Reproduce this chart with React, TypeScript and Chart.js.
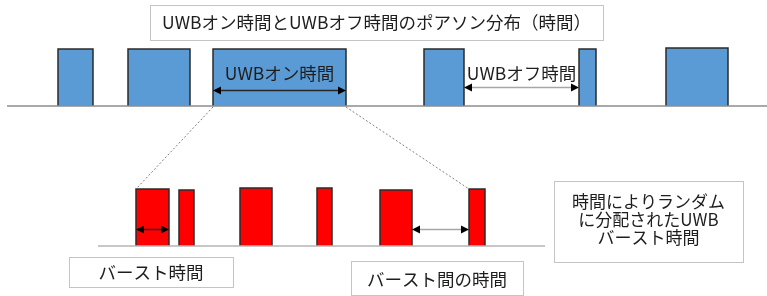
import React, { useEffect, useRef } from "react";
import { Chart, registerables } from "chart.js";

Chart.register(...registerables);

// ---- texts ----
const TITLE = "UWBオン時間とUWBオフ時間のポアソン分布（時間）";
const ON_LABEL = "UWBオン時間";
const OFF_LABEL = "UWBオフ時間";
const BURST_LABEL = "バースト時間";
const GAP_LABEL = "バースト間の時間";
const NOTE_LINES = ["時間によりランダム", "に分配されたUWB", "バースト時間"];

// ---- top timeline: UWB on periods (time units) ----
const onStarts = [58, 128, 213, 424, 579, 666];
const onEnds = [93, 190, 346, 464, 596, 728];
const onHeights = [57, 57, 57, 57, 57, 58];
const TOP_LEVEL = 190;
const TOP_AXIS = [7, 767];

// ---- bottom timeline: bursts inside the highlighted on period ----
const burstStarts = [136, 179, 240, 317, 380, 469];
const burstEnds = [169, 194, 272, 332, 412, 485];
const burstHeights = [57, 56, 58, 58, 56, 57];
const BOTTOM_LEVEL = 50;
const BOTTOM_AXIS = [98, 545];

const FONT = '"Noto Sans CJK JP", "Noto Sans", sans-serif';

function rect(s: number, e: number, base: number, h: number) {
  return [
    { x: s, y: base },
    { x: s, y: base + h },
    { x: e, y: base + h },
    { x: e, y: base },
  ];
}

const overlay = {
  id: "overlay",
  afterDatasetsDraw(chart: any) {
    const { ctx } = chart;
    const xs = chart.scales.x;
    const ys = chart.scales.y;
    const px = (v: number) => xs.getPixelForValue(v);
    const py = (v: number) => ys.getPixelForValue(v);

    const box = (x0: number, x1: number, y0: number, y1: number) => {
      ctx.save();
      ctx.strokeStyle = "#c4c4c4";
      ctx.lineWidth = 1;
      ctx.fillStyle = "#ffffff";
      const X = Math.round(px(x0)) + 0.5;
      const Y = Math.round(py(y0)) + 0.5;
      const W = Math.round(px(x1) - px(x0));
      const H = Math.round(py(y1) - py(y0));
      ctx.fillRect(X, Y, W, H);
      ctx.strokeRect(X, Y, W, H);
      ctx.restore();
    };
    const text = (t: string, cx: number, cy: number, size: number) => {
      ctx.save();
      ctx.font = `${size}px ${FONT}`;
      ctx.fillStyle = "#1e1e1e";
      ctx.textAlign = "center";
      ctx.textBaseline = "middle";
      ctx.fillText(t, px(cx), py(cy));
      ctx.restore();
    };
    const arrow = (x0: number, x1: number, yv: number, lineColor: string) => {
      const a = px(x0);
      const b = px(x1);
      const y = Math.round(py(yv)) + 0.5;
      const L = 8;
      const hh = 4;
      ctx.save();
      ctx.strokeStyle = lineColor;
      ctx.lineWidth = 1.5;
      ctx.beginPath();
      ctx.moveTo(a + L - 1, y);
      ctx.lineTo(b - L + 1, y);
      ctx.stroke();
      ctx.fillStyle = "#000000";
      ctx.beginPath();
      ctx.moveTo(a, y);
      ctx.lineTo(a + L, y - hh);
      ctx.lineTo(a + L, y + hh);
      ctx.closePath();
      ctx.fill();
      ctx.beginPath();
      ctx.moveTo(b, y);
      ctx.lineTo(b - L, y - hh);
      ctx.lineTo(b - L, y + hh);
      ctx.closePath();
      ctx.fill();
      ctx.restore();
    };

    // arrows
    arrow(onStarts[2], onEnds[2], 206, "#262626");
    arrow(onEnds[3], onStarts[4], 209, "#a6a6a6");
    arrow(burstStarts[0], burstEnds[0], 67, "#262626");
    arrow(burstEnds[4], burstStarts[5], 67, "#a6a6a6");

    // labels on the top timeline
    text(ON_LABEL, (onStarts[2] + onEnds[2]) / 2, 223, 17.5);
    text(OFF_LABEL, (onEnds[3] + onStarts[4]) / 2, 223, 17.5);

    // title box
    box(150, 603, 291, 256);
    text(TITLE, 376.5, 273.5, 17.5);

    // bottom boxes
    box(69, 233, 39, 9);
    text(BURST_LABEL, 151, 24, 17.5);
    box(351, 523, 35, 1);
    text(GAP_LABEL, 437, 17, 17.5);
    box(554, 743, 115, 34);
    NOTE_LINES.forEach((l, i) => text(l, 648.5, 94 - i * 18, 17));
  },
};

export default function App() {
  const ref = useRef<HTMLCanvasElement | null>(null);

  useEffect(() => {
    if (!ref.current) return;
    const datasets: any[] = [];

    // base lines
    datasets.push({
      data: [
        { x: TOP_AXIS[0], y: TOP_LEVEL },
        { x: TOP_AXIS[1], y: TOP_LEVEL },
      ],
      borderColor: "#8c8c8c",
      borderWidth: 1.5,
      pointRadius: 0,
      fill: false,
    });
    datasets.push({
      data: [
        { x: BOTTOM_AXIS[0], y: BOTTOM_LEVEL },
        { x: BOTTOM_AXIS[1], y: BOTTOM_LEVEL },
      ],
      borderColor: "#b4b4b4",
      borderWidth: 1.5,
      pointRadius: 0,
      fill: false,
    });

    // dotted zoom connectors
    datasets.push({
      data: [
        { x: onStarts[2], y: TOP_LEVEL - 1 },
        { x: burstStarts[0], y: BOTTOM_LEVEL + burstHeights[0] },
      ],
      borderColor: "#7f7f7f",
      borderWidth: 1,
      borderDash: [2, 2],
      pointRadius: 0,
      fill: false,
    });
    datasets.push({
      data: [
        { x: onEnds[2], y: TOP_LEVEL - 1 },
        { x: burstStarts[5], y: BOTTOM_LEVEL + burstHeights[5] },
      ],
      borderColor: "#7f7f7f",
      borderWidth: 1,
      borderDash: [2, 2],
      pointRadius: 0,
      fill: false,
    });

    // UWB on bars
    onStarts.forEach((s, i) => {
      datasets.push({
        data: rect(s, onEnds[i], TOP_LEVEL, onHeights[i]),
        backgroundColor: "#5b9bd5",
        borderColor: "#2b2b2b",
        borderWidth: 1.5,
        pointRadius: 0,
        fill: { value: TOP_LEVEL },
      });
    });

    // bursts
    burstStarts.forEach((s, i) => {
      datasets.push({
        data: rect(s, burstEnds[i], BOTTOM_LEVEL, burstHeights[i]),
        backgroundColor: "#ff0000",
        borderColor: "#2b2b2b",
        borderWidth: 1.5,
        pointRadius: 0,
        fill: { value: BOTTOM_LEVEL },
      });
    });

    const chart = new Chart(ref.current, {
      type: "line",
      data: { datasets },
      options: {
        animation: false,
        responsive: false,
        maintainAspectRatio: false,
        layout: { padding: 0 },
        elements: { line: { tension: 0 } },
        plugins: {
          legend: { display: false },
          tooltip: { enabled: false },
        },
        scales: {
          x: { type: "linear", min: 0, max: 767, display: false },
          y: { type: "linear", min: 0, max: 296, display: false },
        },
      },
      plugins: [overlay],
    });

    const fonts: any = (document as any).fonts;
    if (fonts && fonts.load) {
      fonts.load(`17px ${FONT}`).then(() => chart.draw()).catch(() => {});
    }
    return () => chart.destroy();
  }, []);

  return (
    <div
      style={{
        position: "fixed",
        left: 0,
        top: 0,
        width: 767,
        height: 296,
        background: "#ffffff",
      }}
    >
      <canvas ref={ref} width={767} height={296} />
    </div>
  );
}
